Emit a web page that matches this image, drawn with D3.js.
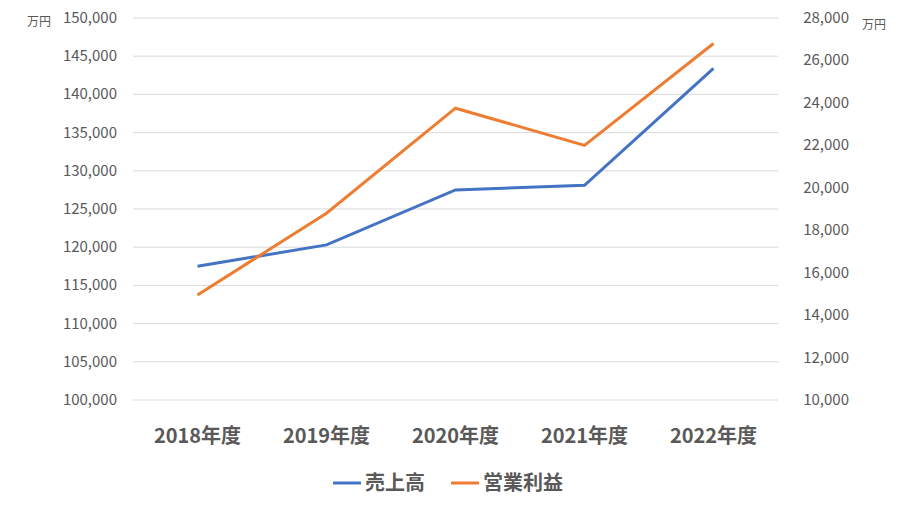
<!DOCTYPE html>
<html><head><meta charset="utf-8">
<script src="https://cdn.jsdelivr.net/npm/d3@7"></script>
<style>body{margin:0;background:#fff}text{font-family:"Noto Sans CJK JP","Noto Sans",sans-serif}</style>
</head><body><svg id="c" width="904" height="510"></svg>
<script>
const categories=["2018年度","2019年度","2020年度","2021年度","2022年度"];
const sales=[117500,120300,127500,128100,143400];
const profit=[14950,18800,23750,22000,26800];
const leftTicks=[100000,105000,110000,115000,120000,125000,130000,135000,140000,145000,150000];
const rightTicks=[10000,12000,14000,16000,18000,20000,22000,24000,26000,28000];
const seriesNames=["売上高","営業利益"];
const colors=["#4472C4","#ED7D31"];

const svg=d3.select("#c");
const x=d3.scaleBand().domain(categories).range([133,778]);
const yL=d3.scaleLinear().domain([100000,150000]).range([400,18]);
const yR=d3.scaleLinear().domain([10000,28000]).range([400,18]);
const fmt=d3.format(",");
svg.append("g").selectAll("line").data(leftTicks).join("line")
 .attr("x1",133).attr("x2",778).attr("y1",d=>yL(d)).attr("y2",d=>yL(d))
 .attr("stroke","#d9d9d9").attr("stroke-width",1);
svg.append("g").selectAll("text").data(leftTicks).join("text")
 .attr("x",117).attr("y",d=>yL(d)+5).attr("text-anchor","end").attr("font-size",15).attr("fill","#595959").text(fmt);
svg.append("g").selectAll("text").data(rightTicks).join("text")
 .attr("x",849).attr("y",d=>yR(d)+5).attr("text-anchor","end").attr("font-size",15).attr("fill","#595959").text(fmt);
svg.append("text").attr("x",27).attr("y",26).attr("font-size",12).attr("fill","#595959").text("万円");
svg.append("text").attr("x",862).attr("y",29).attr("font-size",12).attr("fill","#595959").text("万円");
svg.append("g").selectAll("text").data(categories).join("text")
 .attr("x",d=>x(d)+x.bandwidth()/2).attr("y",443).attr("text-anchor","middle")
 .attr("font-size",20).attr("font-weight","bold").attr("fill","#595959").text(d=>d);
const cx=d=>x(d)+x.bandwidth()/2;
svg.append("path").datum(sales).attr("fill","none").attr("stroke",colors[0]).attr("stroke-width",3)
 .attr("d",d3.line().x((d,i)=>cx(categories[i])).y(d=>yL(d)));
svg.append("path").datum(profit).attr("fill","none").attr("stroke",colors[1]).attr("stroke-width",3)
 .attr("d",d3.line().x((d,i)=>cx(categories[i])).y(d=>yR(d)));
const lg=svg.append("g");
[[333,seriesNames[0]],[451,seriesNames[1]]].forEach(([lx,n],i)=>{
 lg.append("line").attr("x1",lx).attr("x2",lx+28).attr("y1",483).attr("y2",483).attr("stroke",colors[i]).attr("stroke-width",3);
 lg.append("text").attr("x",lx+32).attr("y",490).attr("font-size",20).attr("font-weight","bold").attr("fill","#595959").text(n);
});
</script></body></html>
